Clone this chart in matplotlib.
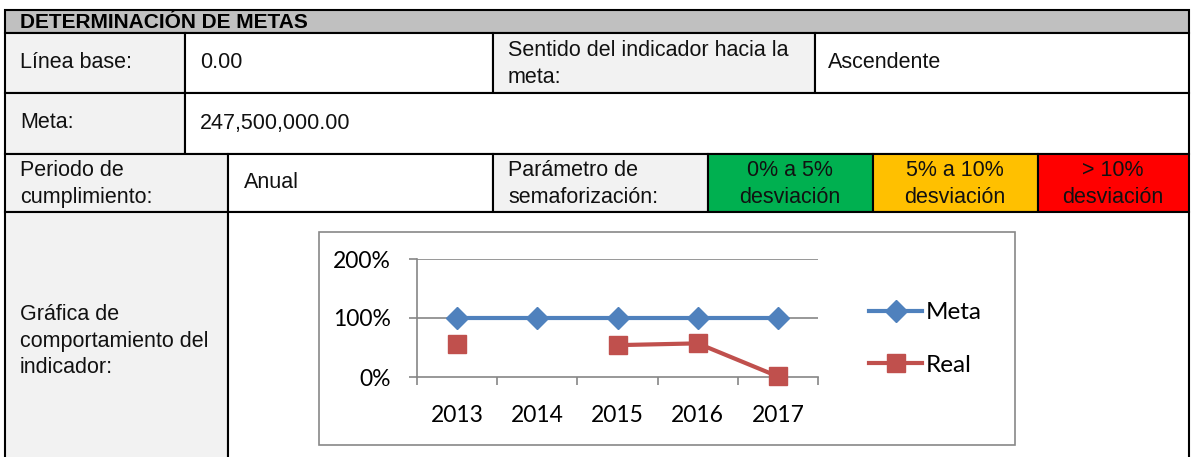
import matplotlib.pyplot as plt
import numpy as np
from matplotlib.lines import Line2D
from matplotlib.patches import Rectangle

W, H = 1191, 457

# chart data
years = ['2013', '2014', '2015', '2016', '2017']
meta = [1.00, 1.00, 1.00, 1.00, 1.00]
real = [0.56, np.nan, 0.54, 0.57, 0.01]
y_ticks = [0, 1, 2]
y_labels = ['0%', '100%', '200%']

# table cells: x0, y0, x1, y1, fill
GRAY = '#F2F2F2'
cells = [
    (5, 10, 1189, 33, '#C0C0C0'),
    (5, 33, 185, 93, GRAY), (185, 33, 493, 93, 'white'),
    (493, 33, 815, 93, GRAY), (815, 33, 1189, 93, 'white'),
    (5, 93, 185, 154, GRAY), (185, 93, 1189, 154, 'white'),
    (5, 154, 228, 212, GRAY), (228, 154, 493, 212, 'white'),
    (493, 154, 708, 212, GRAY), (708, 154, 873, 212, '#00B050'),
    (873, 154, 1038, 212, '#FFC000'), (1038, 154, 1189, 212, '#FF0000'),
    (5, 212, 228, 470, GRAY), (228, 212, 1189, 470, 'white'),
]

# table texts: x, y, text, align
texts = [
    (20, 63, 'Línea base:', 'left'),
    (200, 63, '0.00', 'left'),
    (508, 64, 'Sentido del indicador hacia la\nmeta:', 'left'),
    (828, 63, 'Ascendente', 'left'),
    (20, 123, 'Meta:', 'left'),
    (200, 123, '247,500,000.00', 'left'),
    (20, 184, 'Periodo de\ncumplimiento:', 'left'),
    (244, 183, 'Anual', 'left'),
    (508, 184, 'Parámetro de\nsemaforización:', 'left'),
    (790, 184, '0% a 5%\ndesviación', 'center'),
    (955, 184, '5% a 10%\ndesviación', 'center'),
    (1113, 184, '> 10%\ndesviación', 'center'),
    (20, 341, 'Gráfica de\ncomportamiento del\nindicador:', 'left'),
]

fig = plt.figure(figsize=(W / 100, H / 100), dpi=100)
tab = fig.add_axes([0, 0, 1, 1])
tab.set_xlim(0, W)
tab.set_ylim(H, 0)
tab.axis('off')

for x0, y0, x1, y1, fc in cells:
    tab.add_patch(Rectangle((x0, y0), x1 - x0, y1 - y0, facecolor=fc,
                            edgecolor='black', linewidth=1.5))

tab.text(20, 22, 'DETERMINACIÓN DE METAS', fontsize=15, fontweight='bold',
         family='Liberation Sans', va='center', ha='left')
for x, y, s, ha in texts:
    tab.text(x, y, s, fontsize=15.5, family='Liberation Sans', va='center',
             ha=ha, linespacing=1.36, color='#111111')

# chart frame
tab.add_patch(Rectangle((319, 232), 1015 - 319, 445 - 232, facecolor='white',
                        edgecolor='#888888', linewidth=1.2))

# chart
px0, px1, py0, py1 = 417, 818, 259, 377
ax = fig.add_axes([px0 / W, 1 - py1 / H, (px1 - px0) / W, (py1 - py0) / H])
x = np.arange(len(years))
grid_c = '#868686'
ax.set_xlim(-0.5, len(years) - 0.5)
ax.set_ylim(0, 2)
ax.set_facecolor('none')
for v in y_ticks[1:]:
    ax.axhline(v, color=grid_c, linewidth=1.2, zorder=1)
for side in ['top', 'right']:
    ax.spines[side].set_visible(False)
for side in ['left', 'bottom']:
    ax.spines[side].set_color(grid_c)
    ax.spines[side].set_linewidth(1.2)

ax.plot(x, meta, color='#4F81BD', linewidth=3, marker='D', markersize=11,
        clip_on=False, zorder=3, label='Meta')
ax.plot(x, real, color='#C0504D', linewidth=3, marker='s', markersize=13,
        clip_on=False, zorder=4, label='Real')

ax.set_yticks(y_ticks)
ax.set_yticklabels(y_labels)
ax.set_xticks(x)
ax.set_xticklabels(years)
ax.set_xticks(np.arange(len(years) + 1) - 0.5, minor=True)
ax.tick_params(axis='x', which='major', length=0, pad=20)
ax.tick_params(axis='x', which='minor', length=6, color=grid_c, width=1.2)
ax.tick_params(axis='y', length=6, color=grid_c, width=1.2, pad=13)
for lbl in ax.get_xticklabels() + ax.get_yticklabels():
    lbl.set_family('Lato')
    lbl.set_fontsize(16.5)

handles = [
    Line2D([], [], color='#4F81BD', linewidth=3, marker='D', markersize=11),
    Line2D([], [], color='#C0504D', linewidth=3, marker='s', markersize=13),
]
fig.legend(handles, ['Meta', 'Real'], loc='center left',
           bbox_to_anchor=(847 / W, 1 - 339 / H), frameon=False,
           prop={'family': 'Lato', 'size': 17.5}, handlelength=2.2,
           labelspacing=1.3, handletextpad=0.15)

fig.savefig('out.png', dpi=100)
